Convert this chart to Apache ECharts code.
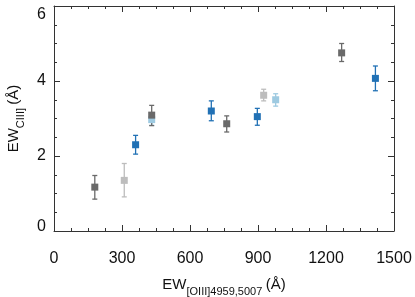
<!DOCTYPE html>
<html>
<head>
<meta charset="utf-8">
<script src="https://cdn.jsdelivr.net/npm/echarts@6/dist/echarts.min.js"></script>
<style>html,body{margin:0;padding:0;background:#fff;}#c{width:415px;height:297px;}</style>
</head>
<body>
<div id="c"></div>
<script>
// x, y, lower, upper
const darkGray = [[180,1.17,0.85,1.48],[431,3.09,2.81,3.35],[762,2.86,2.64,3.07],[1269,4.75,4.52,5.00]];
const lightGray = [[310,1.35,0.91,1.80],[925,3.62,3.47,3.78]];
const blue = [[360,2.30,2.05,2.55],[694,3.20,2.94,3.47],[897,3.05,2.82,3.27],[1418,4.07,3.74,4.40]];
const lightBlue = [[431,2.97,2.82,3.12],[978,3.50,3.33,3.66]];
const xTicks = [0,300,600,900,1200,1500];
const yTicks = [0,2,4,6];

const groups = [
  {data: lightBlue, color: '#9ecae1'},
  {data: lightGray, color: '#bdbdbd'},
  {data: blue, color: '#2171b5'},
  {data: darkGray, color: '#6a6a6a'}
];

const FONT = 'Liberation Sans, Arial, Helvetica, sans-serif';
const axisCol = '#333';

function errSeries(g) {
  return {
    type: 'custom',
    xAxisIndex: 0, yAxisIndex: 0,
    data: g.data,
    z: 2,
    renderItem: function (params, api) {
      const x = api.value(0);
      const lo = api.coord([x, api.value(2)]);
      const hi = api.coord([x, api.value(3)]);
      const w = 2.5;
      const st = {stroke: g.color, lineWidth: 1.3};
      return {type: 'group', children: [
        {type: 'line', shape: {x1: lo[0], y1: lo[1], x2: hi[0], y2: hi[1]}, style: st},
        {type: 'line', shape: {x1: lo[0]-w, y1: lo[1], x2: lo[0]+w, y2: lo[1]}, style: st},
        {type: 'line', shape: {x1: hi[0]-w, y1: hi[1], x2: hi[0]+w, y2: hi[1]}, style: st}
      ]};
    }
  };
}
function ptSeries(g) {
  return {
    type: 'scatter', xAxisIndex: 0, yAxisIndex: 0,
    symbol: 'rect', symbolSize: 7,
    data: g.data.map(d => [d[0], d[1]]),
    itemStyle: {color: g.color, opacity: 1},
    z: 3, silent: true
  };
}
const series = [];
groups.forEach(g => { series.push(errSeries(g)); series.push(ptSeries(g)); });

function tickCommon() {
  return {
    axisLine: {show: true, onZero: false, lineStyle: {color: axisCol, width: 1}},
    axisTick: {show: true, inside: true, length: 6, lineStyle: {color: axisCol}},
    minorTick: {show: true, splitNumber: 4, length: 3, lineStyle: {color: axisCol}},
    splitLine: {show: false}
  };
}
const rich = {
  m: {fontSize: 15, fontFamily: FONT, color: '#111', lineHeight: 20, verticalAlign: 'middle'},
  s: {fontSize: 11, fontFamily: FONT, color: '#111', lineHeight: 20, verticalAlign: 'bottom', padding: [0,0,-2,0]}
};
const yLabRich = {
  n: {fontSize: 16, fontFamily: FONT, color: '#111'},
  lo: {fontSize: 16, fontFamily: FONT, color: '#111', padding: [0,0,8,0]},
  hi: {fontSize: 16, fontFamily: FONT, color: '#111', padding: [18,0,0,0]}
};

const chart = echarts.init(document.getElementById('c'), null, {renderer: 'canvas'});
chart.setOption({
  animation: false,
  backgroundColor: '#fff',
  grid: {left: 54, right: 21, top: 6, bottom: 66, containLabel: false, outerBoundsMode: 'none'},
  xAxis: [
    Object.assign({
      type: 'value', min: xTicks[0], max: xTicks[xTicks.length-1], interval: 300, position: 'bottom',
      axisLabel: {color: '#111', fontSize: 16, fontFamily: FONT, margin: 20, formatter: v => String(v)},
      name: '{m|EW}{s|[OIII]4959,5007} {m|(Å)}',
      nameLocation: 'middle', nameGap: 44,
      nameTextStyle: {color: '#111', fontFamily: FONT, rich: rich}
    }, tickCommon()),
    Object.assign({
      type: 'value', min: xTicks[0], max: xTicks[xTicks.length-1], interval: 300, position: 'top',
      axisLabel: {show: false}
    }, tickCommon())
  ],
  yAxis: [
    Object.assign({
      type: 'value', min: yTicks[0], max: yTicks[yTicks.length-1], interval: 2, position: 'left',
      axisLabel: {color: '#111', fontSize: 16, fontFamily: FONT, margin: 8, rich: yLabRich,
        formatter: v => v === yTicks[0] ? '{lo|' + v + '}' : (v === yTicks[yTicks.length-1] ? '{hi|' + v + '}' : '{n|' + v + '}')},
      name: '{m|EW}{s|CIII]} {m|(Å)}',
      nameLocation: 'middle', nameGap: 30, nameRotate: 90,
      nameTextStyle: {color: '#111', fontFamily: FONT, rich: rich}
    }, tickCommon()),
    Object.assign({
      type: 'value', min: yTicks[0], max: yTicks[yTicks.length-1], interval: 2, position: 'right',
      axisLabel: {show: false}
    }, tickCommon())
  ],
  series: series
});
</script>
</body>
</html>
